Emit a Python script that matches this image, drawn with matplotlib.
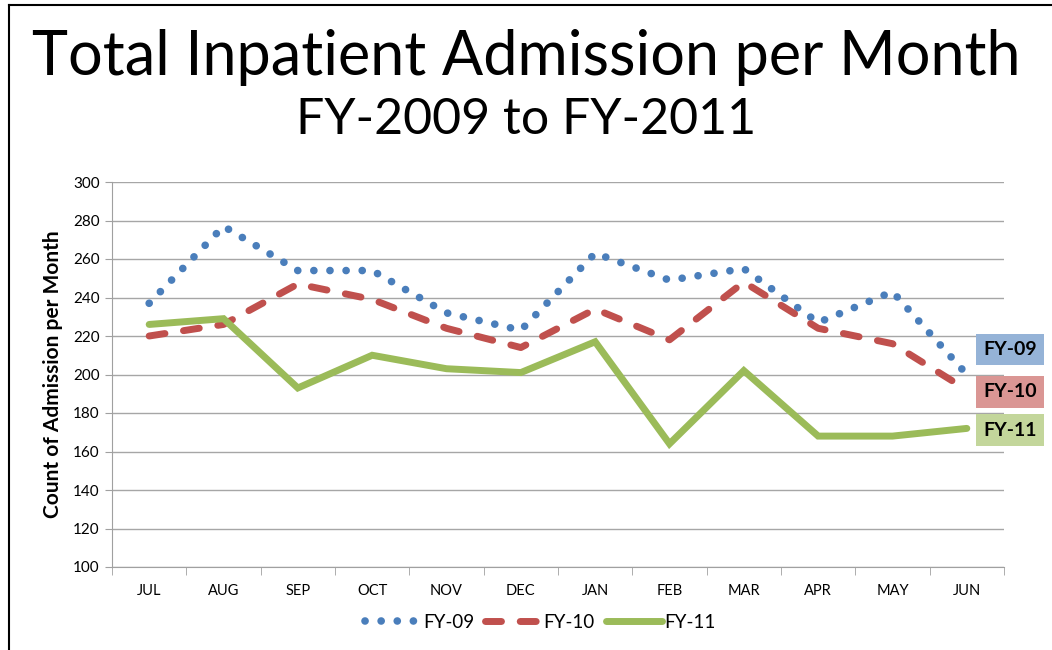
import matplotlib
matplotlib.use("Agg")
import matplotlib.pyplot as plt
from matplotlib.lines import Line2D

months = ["JUL", "AUG", "SEP", "OCT", "NOV", "DEC", "JAN", "FEB", "MAR", "APR", "MAY", "JUN"]
fy09 = [237, 277, 254, 254, 232, 223, 263, 249, 255, 227, 243, 200]
fy10 = [220, 226, 247, 239, 224, 214, 234, 218, 248, 224, 216, 192]
fy11 = [226, 229, 193, 210, 203, 201, 217, 164, 202, 168, 168, 172]
series_names = ["FY-09", "FY-10", "FY-11"]
yticks = [100, 120, 140, 160, 180, 200, 220, 240, 260, 280, 300]

FONT = "Lato"
plt.rcParams["font.family"] = [FONT, "DejaVu Sans"]

fig = plt.figure(figsize=(10.52, 6.5), dpi=100)
ax = fig.add_axes([112/1052, (650-567)/650, (1004-112)/1052, (567-182)/650])

x = list(range(len(months)))
blue, red, green = "#4a7ebb", "#c0504d", "#9bbb59"

l1, = ax.plot(x, fy09, color=blue, lw=5.5, linestyle=(0, (0.01, 2.1)),
              dash_capstyle="round", label=series_names[0], zorder=3)
l2, = ax.plot(x, fy10, color=red, lw=5, linestyle=(0, (2.3, 2.7)),
              dash_capstyle="round", label=series_names[1], zorder=3)
l3, = ax.plot(x, fy11, color=green, lw=5, solid_capstyle="round",
              solid_joinstyle="miter", label=series_names[2], zorder=3)

ax.set_xlim(-0.5, len(months) - 0.5)
ax.set_ylim(100, 300)
ax.set_yticks(yticks)
ax.set_xticks(x)
ax.set_xticklabels(months, fontsize=10.5)
ax.tick_params(axis="x", length=0, pad=12)
ax.set_xticks([i - 0.5 for i in range(len(months) + 1)], minor=True)
ax.tick_params(axis="x", which="minor", length=6, color="#a0a0a0", direction="out")
ax.tick_params(axis="y", length=5, color="#a0a0a0", labelsize=11, pad=4)
ax.grid(axis="y", color="#a6a6a6", lw=1.0)
ax.set_axisbelow(True)
for s in ["top", "right"]:
    ax.spines[s].set_visible(False)
for s in ["left", "bottom"]:
    ax.spines[s].set_color("#a0a0a0")
ax.set_ylabel("Count of Admission per Month", fontsize=15, fontweight="bold", labelpad=7)

fig.text(0.5, 1 - 58/650, "Total Inpatient Admission per Month", ha="center", va="center",
         fontsize=44)
fig.text(0.5, 1 - 120/650, "FY-2009 to FY-2011", ha="center", va="center", fontsize=36)

# end labels
label_specs = [(fy09, "#95b3d7", 13), (fy10, "#da9694", -1), (fy11, "#c3d69b", -1)]
for (vals, bg, dy), name in zip(label_specs, series_names):
    ax.annotate(name, xy=(len(months) - 1, vals[-1] + dy), xytext=(31, 0),
                textcoords="offset points", ha="center", va="center",
                fontsize=14, fontweight="bold", annotation_clip=False,
                bbox=dict(boxstyle="square,pad=0.38", fc=bg, ec="none"))

leg = fig.legend(handles=[l1, l2, l3], loc="center", bbox_to_anchor=(540/1052, 1 - 622/650),
                 ncol=3, frameon=False, fontsize=13.5, handlelength=3.0, handletextpad=0.1,
                 columnspacing=0.6)

# figure border (left and top)
fig.add_artist(Line2D([9/1052, 9/1052], [0, 1 - 5/650], color="black", lw=1.5, transform=fig.transFigure))
fig.add_artist(Line2D([9/1052, 1], [1 - 5/650, 1 - 5/650], color="black", lw=1.5, transform=fig.transFigure))

fig.savefig("out.png", dpi=100)
